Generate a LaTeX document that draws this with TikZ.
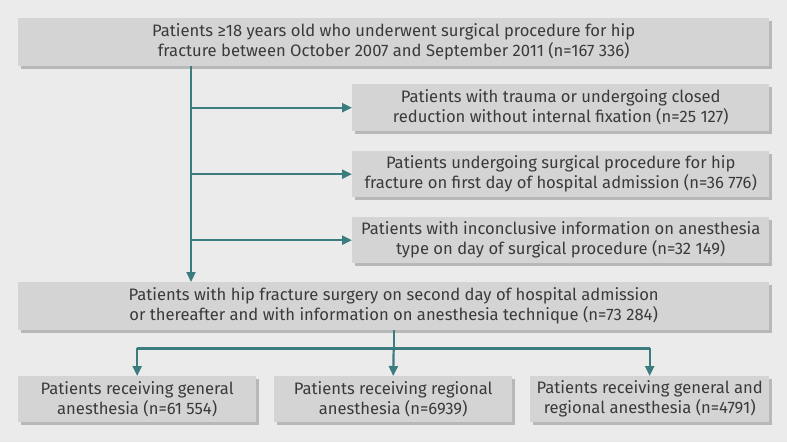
\documentclass[tikz,border=0pt]{standalone}
\usepackage{fontspec}
\setmainfont{Fira Sans}
\usetikzlibrary{arrows.meta,shadows}
\definecolor{bg}{HTML}{EBEBEB}
\definecolor{boxg}{HTML}{D4D4D4}
\definecolor{shad}{HTML}{B8B8B8}
\definecolor{teal2}{HTML}{3B7C7E}
\definecolor{txt}{HTML}{3A3A3A}
\begin{document}
\begin{tikzpicture}[x=1pt,y=-1pt,
  box/.style={fill=boxg, text=txt, align=center, inner sep=0pt, anchor=north west,
    font=\fontsize{16.6}{20}\selectfont,
    drop shadow={shadow xshift=2.5pt, shadow yshift=-2.5pt, fill=shad, opacity=1}},
  arr/.style={draw=teal2, line width=2.2pt, -{Triangle[length=10pt,width=9pt]}},
  ln/.style={draw=teal2, line width=2.2pt}]
\fill[bg] (0,0) rectangle (787,442);
\useasboundingbox (0,0) rectangle (787,442);
\node[box, minimum width=751pt, minimum height=48pt] (top) at (18,18)
  {Patients ≥18 years old who underwent surgical procedure for hip\\fracture between October 2007 and September 2011 (n=167 336)};
\node[box, minimum width=417pt, minimum height=47pt] (s1) at (352,84)
  {Patients with trauma or undergoing closed\\reduction without internal fixation (n=25 127)};
\node[box, minimum width=417pt, minimum height=46pt] (s2) at (352,151)
  {Patients undergoing surgical procedure for hip\\fracture on first day of hospital admission (n=36 776)};
\node[box, minimum width=417pt, minimum height=46pt] (s3) at (352,217)
  {Patients with inconclusive information on anesthesia\\type on day of surgical procedure (n=32 149)};
\node[box, minimum width=751pt, minimum height=48pt] (mid) at (18,282)
  {Patients with hip fracture surgery on second day of hospital admission\\or thereafter and with information on anesthesia technique (n=73 284)};
\node[box, minimum width=238pt, minimum height=46pt] (ba) at (18,376)
  {Patients receiving general\\anesthesia (n=61 554)};
\node[box, minimum width=238pt, minimum height=46pt] (bb) at (274,376)
  {Patients receiving regional\\anesthesia (n=6939)};
\node[box, minimum width=239pt, minimum height=46pt] (bc) at (530,376)
  {Patients receiving general and\\regional anesthesia (n=4791)};
\coordinate (tx) at (191,0);
\draw[arr] (top.south -| tx) -- (mid.north -| tx);
\draw[arr] (s1.west -| tx) -- (s1.west);
\draw[arr] (s2.west -| tx) -- (s2.west);
\draw[arr] (s3.west -| tx) -- (s3.west);
\draw[ln] (mid.south) -- ++(0,18) coordinate (j);
\draw[ln] (j -| ba.north) -- (j -| bc.north);
\draw[arr] (j) -- (bb.north);
\draw[arr] (j -| ba.north) -- (ba.north);
\draw[arr] (j -| bc.north) -- (bc.north);
\end{tikzpicture}
\end{document}
